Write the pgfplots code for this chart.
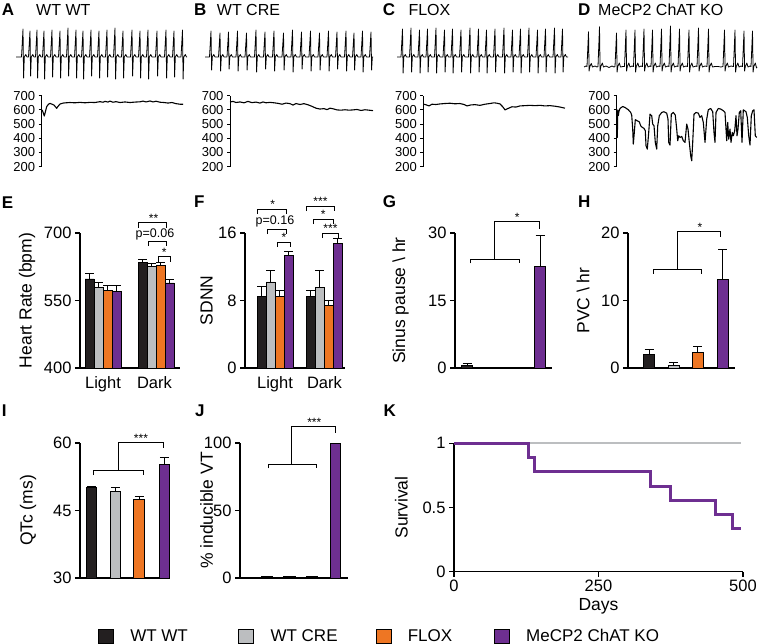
\documentclass[border=0pt]{standalone}
\usepackage{fontspec}
\setmainfont{Liberation Sans}
\usepackage{pgfplots}
\pgfplotsset{compat=1.18}
\definecolor{cblack}{HTML}{231F20}
\definecolor{cgrey}{HTML}{BCBEC0}
\definecolor{corange}{HTML}{EE7623}
\definecolor{cpurple}{HTML}{6E2F91}
\pgfplotsset{
  every axis/.append style={/pgf/number format/assume math mode=true},
  pane/.style={scale only axis, anchor=south west},
  barax/.style={pane,
    axis x line*=bottom, axis y line*=left,
    every outer x axis line/.append style={-}, every outer y axis line/.append style={-},
    axis line style={-, line width=1.3pt, black},
    tick pos=left, tick align=outside, major tick length=5pt,
    tick style={black, line width=1.3pt},
    tick label style={font=\fontsize{16.5}{18}\selectfont, black},
    label style={font=\fontsize{17.5}{19}\selectfont, black},
  },
  noxt/.style={xtick style={draw=none}},
  hrax/.style={pane, axis y line*=left, axis x line=none,
    every outer y axis line/.append style={-},
    axis line style={-, line width=1pt, black},
    ytick pos=left, tick align=outside, major tick length=3pt,
    tick style={black, line width=1pt}, xtick=\empty,
    ymin=200, ymax=700, ytick={200,300,...,700}, height=71pt, clip=false,
    tick label style={font=\fontsize{13}{13}\selectfont},
  },
  bb/.style={ybar, bar width=#1, draw=black, line width=0.6pt,
    error bars/y dir=plus, error bars/y explicit,
    error bars/error bar style={line width=1pt, black},
    error bars/error mark options={rotate=90, line width=1pt, mark size=4.5pt, black}},
  ecg/.style={black, line width=0.8pt, line join=round},
  hr/.style={black, line width=1.1pt, line join=round},
  sq/.style={legend image code/.code={\draw[fill=#1,draw=black,line width=0.6pt] (0pt,-7pt) rectangle (15pt,7pt); \path[draw=none,fill=none] (0pt,0pt) rectangle (32pt,0.1pt);}},
}
\tikzset{
  br/.style={black, line width=0.9pt},
  ast/.style={anchor=base, inner sep=0pt, font=\fontsize{12}{12}\selectfont},
  pv/.style={anchor=base, inner sep=0pt, font=\fontsize{12.5}{12.5}\selectfont},
  lt/.style={anchor=west, inner sep=0pt, font=\bfseries\fontsize{17}{17}\selectfont},
  tt/.style={anchor=west, inner sep=0pt, font=\fontsize{16}{16}\selectfont},
}
\begin{document}
\begin{tikzpicture}[x=1pt,y=-1pt]
\path[use as bounding box] (0,0) rectangle (760,644);

% ---------- overlay: ECG traces, titles, brackets (pixel coordinates)
\begin{axis}[at={(0pt,-644pt)}, anchor=south west, scale only axis, width=760pt, height=644pt,
  xmin=0, xmax=760, ymin=0, ymax=644, y dir=reverse, hide axis, clip=false]
\addplot[ecg] coordinates {(16,57)
(21.5,57)(23,29)(23.6,78)(24.3,57)(25.8,54.5)(27,57)
(28.5,57)(30,31)(30.6,76)(31.3,57)(32.8,54.5)(34,57)
(35.5,57)(37,30)(37.6,78)(38.3,57)(39.8,54.5)(41,57)
(42.5,57)(44,31)(44.6,79)(45.3,57)(46.8,54.5)(48,57)
(50.5,57)(52,30)(52.6,77)(53.3,57)(54.8,54.5)(56,57)
(58.5,57)(60,31)(60.6,78)(61.3,57)(62.8,54.5)(64,57)
(66.5,57)(68,28)(68.6,76)(69.3,57)(70.8,54.5)(72,57)
(74.5,57)(76,30)(76.6,78)(77.3,57)(78.8,54.5)(80,57)
(81.5,57)(83,31)(83.6,79)(84.3,57)(85.8,54.5)(87,57)
(89.5,57)(91,30)(91.6,76)(92.3,57)(93.8,54.5)(95,57)
(97.5,57)(99,31)(99.6,78)(100.3,57)(101.8,54.5)(103,57)
(105.5,57)(107,30)(107.6,77)(108.3,57)(109.8,54.5)(111,57)
(113.5,57)(115,28)(115.6,79)(116.3,57)(117.8,54.5)(119,57)
(121.5,57)(123,31)(123.6,78)(124.3,57)(125.8,54.5)(127,57)
(130.5,57)(132,30)(132.6,76)(133.3,57)(134.8,54.5)(136,57)
(138.5,57)(140,31)(140.6,78)(141.3,57)(142.8,54.5)(144,57)
(146.5,57)(148,30)(148.6,79)(149.3,57)(150.8,54.5)(152,57)
(155.5,57)(157,31)(157.6,76)(158.3,57)(159.8,54.5)(161,57)
(164.5,57)(166,30)(166.6,78)(167.3,57)(168.8,54.5)(170,57)
(172.5,57)(174,31)(174.6,77)(175.3,57)(176.8,54.5)(178,57)
(181,57)(182.5,30)(183.1,79)(183.8,57)(185.3,54.5)(186.5,57)(187,57)};
\addplot[ecg] coordinates {(205,57)
(209.5,57)(211,31)(211.6,70)(212.3,57)(213.8,54.5)(215,57)
(218.5,57)(220,33)(220.6,71)(221.3,57)(222.8,54.5)(224,57)
(227,57)(228.5,32)(229.1,69)(229.8,57)(231.3,54.5)(232.5,57)
(236,57)(237.5,31)(238.1,71)(238.8,57)(240.3,54.5)(241.5,57)
(245,57)(246.5,33)(247.1,70)(247.8,57)(249.3,54.5)(250.5,57)
(254.5,57)(256,30)(256.6,72)(257.3,57)(258.8,54.5)(260,57)
(263.5,57)(265,32)(265.6,69)(266.3,57)(267.8,54.5)(269,57)
(272.5,57)(274,31)(274.6,71)(275.3,57)(276.8,54.5)(278,57)
(282,57)(283.5,33)(284.1,70)(284.8,57)(286.3,54.5)(287.5,57)
(291,57)(292.5,30)(293.1,72)(293.8,57)(295.3,54.5)(296.5,57)
(300,57)(301.5,32)(302.1,69)(302.8,57)(304.3,54.5)(305.5,57)
(309,57)(310.5,31)(311.1,71)(311.8,57)(313.3,54.5)(314.5,57)
(318,57)(319.5,33)(320.1,70)(320.8,57)(322.3,54.5)(323.5,57)
(327,57)(328.5,31)(329.1,71)(329.8,57)(331.3,54.5)(332.5,57)
(335.5,57)(337,32)(337.6,69)(338.3,57)(339.8,54.5)(341,57)
(344.5,57)(346,31)(346.6,71)(347.3,57)(348.8,54.5)(350,57)
(352.5,57)(354,33)(354.6,70)(355.3,57)(356.8,54.5)(358,57)
(361,57)(362.5,31)(363.1,72)(363.8,57)(365.3,54.5)(366.5,57)
(369.5,57)(371,32)(371.6,70)(372.3,57)(373,57)};
\addplot[ecg] coordinates {(397,57)
(401,57)(402.5,29)(403.1,73)(403.8,57)(405.3,54.5)(406.5,57)
(409.5,57)(411,28)(411.6,72)(412.3,57)(413.8,54.5)(415,57)
(418,57)(419.5,30)(420.1,73)(420.8,57)(422.3,54.5)(423.5,57)
(426,57)(427.5,29)(428.1,72)(428.8,57)(430.3,54.5)(431.5,57)
(434.5,57)(436,28)(436.6,73)(437.3,57)(438.8,54.5)(440,57)
(443,57)(444.5,30)(445.1,72)(445.8,57)(447.3,54.5)(448.5,57)
(451,57)(452.5,29)(453.1,73)(453.8,57)(455.3,54.5)(456.5,57)
(459.5,57)(461,30)(461.6,72)(462.3,57)(463.8,54.5)(465,57)
(468.5,57)(470,28)(470.6,73)(471.3,57)(472.8,54.5)(474,57)
(477,57)(478.5,29)(479.1,72)(479.8,57)(481.3,54.5)(482.5,57)
(485,57)(486.5,30)(487.1,73)(487.8,57)(489.3,54.5)(490.5,57)
(493.5,57)(495,29)(495.6,72)(496.3,57)(497.8,54.5)(499,57)
(502.5,57)(504,28)(504.6,73)(505.3,57)(506.8,54.5)(508,57)
(511,57)(512.5,30)(513.1,72)(513.8,57)(515.3,54.5)(516.5,57)
(519,57)(520.5,29)(521.1,73)(521.8,57)(523.3,54.5)(524.5,57)
(527.5,57)(529,28)(529.6,72)(530.3,57)(531.8,54.5)(533,57)
(536,57)(537.5,30)(538.1,73)(538.8,57)(540.3,54.5)(541.5,57)
(544,57)(545.5,29)(546.1,72)(546.8,57)(548.3,54.5)(549.5,57)
(553,57)(554.5,28)(555.1,73)(555.8,57)(557.3,54.5)(558.5,57)
(561,57)(562.5,29)(563.1,72)(563.8,57)(565.3,54.5)(566.5,57)(568,57)};
\addplot[ecg] coordinates {(584,67)(586,66)
(587,66.5)(588.5,31.7)(589.1,71)(589.8,66.5)(591.3,63.5)(592.5,67)(595,66)(597,67)
(598,66.5)(599.5,26.7)(600.1,71)(600.8,66.5)(602.3,63)(603.5,67)(606,66)(609,67.5)(612,66)(614,67)
(615,66.5)(616.5,33)(617.1,72)(617.8,66.5)(619.3,63)(620.5,67)(623,66.5)
(624.5,66.5)(626,30)(626.6,71)(627.3,66.5)(628.8,63)(630,67)(632,66)
(633.5,66.5)(635,30)(635.6,72)(636.3,66.5)(637.8,63)(639,67)(641,66)
(642.5,66.5)(644,29)(644.6,71)(645.3,66.5)(646.8,63)(648,67)(650,66)
(651,66.5)(652.5,30)(653.1,72)(653.8,66.5)(655.3,63)(656.5,67)(659,66)
(660,66.5)(661.5,29)(662.1,71)(662.8,66.5)(664.3,63)(665.5,67)(668,66)
(669,66.5)(670.5,26)(671.1,72)(671.8,66.5)(673.3,63)(674.5,67)(677,66)
(678,66.5)(679.5,29)(680.1,71)(680.8,66.5)(682.3,63)(683.5,67)(686,66)
(687.5,66.5)(689,30)(689.6,72)(690.3,66.5)(691.8,63)(693,67)(696,66)
(697,66.5)(698.5,28)(699.1,71)(699.8,66.5)(701.3,63)(702.5,67)(705,66)
(707,66.5)(708.5,29)(709.1,72)(709.8,66.5)(711.3,63)(712.5,67)(715,66.5)(718,66.5)(721,67)
(723,66.5)(724.5,30)(725.1,71)(725.8,66.5)(727.3,63)(728.5,67)(731,66)
(733.5,66.5)(735,30)(735.6,72)(736.3,66.5)(737.8,63)(739,67)(741,66)
(742.5,66.5)(744,31)(744.6,71)(745.3,66.5)(746.8,63)(748,67)(750,66)
(751,66.5)(752.5,31)(753.1,72)(753.8,66.5)(755.3,63)(756.5,68)(757,67)};
% panel letters and titles
\node[lt] at (1.7,10) {A};   \node[tt] at (36,10) {WT WT};
\node[lt] at (194,10) {B};   \node[tt] at (216.7,10) {WT CRE};
\node[lt] at (382.7,10) {C}; \node[tt] at (408.3,10) {FLOX};
\node[lt] at (578,10) {D};   \node[tt] at (598,10) {MeCP2 ChAT KO};
\node[lt] at (1.7,202.5) {E}; \node[lt] at (194,202) {F};
\node[lt] at (382.7,202) {G}; \node[lt] at (578,202) {H};
\node[lt] at (1.7,411) {I};  \node[lt] at (195,411) {J}; \node[lt] at (383.3,411) {K};
% E brackets
\draw[br] (138.3,227.5) -- (138.3,222.7) -- (166.7,222.7) -- (166.7,227.5);
\node[ast] at (153.5,222) {**};
\draw[br] (148.3,246) -- (148.3,241.7) -- (166.7,241.7) -- (166.7,246);
\node[pv] at (155,237.5) {p=0.06};
\draw[br] (158.3,261.5) -- (158.3,256.7) -- (170,256.7) -- (170,261.5);
\node[ast] at (164.2,256) {*};
% F brackets
\draw[br] (257.7,214) -- (257.7,209.3) -- (286,209.3) -- (286,214);
\node[ast] at (272.7,208.6) {*};
\node[pv] at (275,224.5) {p=0.16};
\draw[br] (267.3,234) -- (267.3,229.3) -- (286,229.3) -- (286,234);
\draw[br] (277.7,246.5) -- (277.7,242) -- (290,242) -- (290,246.5);
\node[ast] at (284,241.5) {*};
\draw[br] (306.7,211) -- (306.7,206) -- (334.3,206) -- (334.3,211);
\node[ast] at (320.5,205.5) {***};
\draw[br] (313.3,224) -- (313.3,219.3) -- (333.3,219.3) -- (333.3,224);
\node[ast] at (323.3,218.8) {*};
\draw[br] (322.7,238) -- (322.7,233.3) -- (338.3,233.3) -- (338.3,238);
\node[ast] at (330.5,232.8) {***};
% G
\draw[br] (470,263.3) -- (470,259.3) -- (519.3,259.3) -- (519.3,263.3);
\draw[br] (494.3,259.3) -- (494.3,221.7) -- (539,221.7) -- (539,229.3);
\node[ast] at (517.3,221.2) {*};
% H
\draw[br] (653.3,273.5) -- (653.3,269.3) -- (701.7,269.3) -- (701.7,273.5);
\draw[br] (677.7,269.3) -- (677.7,231.7) -- (720.7,231.7) -- (720.7,236.7);
\node[ast] at (700,231.2) {*};
% I
\draw[br] (93.3,475) -- (93.3,470.7) -- (143.3,470.7) -- (143.3,475);
\draw[br] (118.3,470.7) -- (118.3,442.7) -- (163.3,442.7) -- (163.3,448.3);
\node[ast] at (141,442.2) {***};
% J
\draw[br] (268.3,468.3) -- (268.3,464.3) -- (316,464.3) -- (316,468.3);
\draw[br] (291.7,464.3) -- (291.7,426.7) -- (335,426.7) -- (335,433.3);
\node[ast] at (314.3,426.2) {***};
\end{axis}

% ---------- heart-rate traces A-D
\begin{axis}[hrax, at={(41.7pt,-166.7pt)}, width=142pt, xmin=41.7, xmax=183.7]
\addplot[hr] coordinates {(42,600)(43,585)(44.3,557)(45.5,590)(46.7,623)(48.5,640)(50,646)(52,640)(54,634)(56.7,611)(58,625)(60,641)(63,648)(66,650)(70,652)(75,650)(80,653)(85,650)(90,653)(95,652)(100,658)(103,654)(105,660)(108,655)(110,662)(113,654)(116,658)(120,652)(125,656)(130,652)(135,655)(140,657)(143,662)(146,656)(150,663)(153,656)(156,661)(160,654)(164,652)(168,648)(172,652)(176,644)(180,640)(183,640)};
\end{axis}
\begin{axis}[hrax, at={(230pt,-166.7pt)}, width=144pt, xmin=230, xmax=374]
\addplot[hr] coordinates {(230,655)(233,660)(236,652)(240,656)(244,650)(248,660)(252,651)(256,655)(260,648)(263,656)(266,650)(270,653)(274,650)(278,646)(282,640)(286,648)(290,644)(293,634)(296,645)(300,638)(304,644)(308,636)(312,625)(316,612)(320,606)(324,609)(327,602)(330,612)(333,608)(337,600)(341,598)(345,601)(349,598)(353,600)(357,603)(361,596)(365,601)(369,598)(373,595)};
\end{axis}
\begin{axis}[hrax, at={(423.3pt,-166.7pt)}, width=144.7pt, xmin=423.3, xmax=568]
\addplot[hr] coordinates {(423.3,641)(426,636)(429,628)(432,640)(436,638)(440,642)(445,645)(450,647)(455,643)(460,645)(464,638)(467,628)(471,635)(475,637)(480,632)(485,640)(490,645)(494,650)(497,647)(500,642)(503,620)(505,600)(508,610)(512,622)(516,620)(520,628)(525,630)(530,632)(535,630)(540,632)(545,628)(550,630)(555,626)(560,620)(565,612)};
\end{axis}
\begin{axis}[hrax, at={(616.7pt,-166.7pt)}, width=141.3pt, xmin=616.7, xmax=758]
\addplot[hr] coordinates {(616.9,559)(617.3,406)(617.8,600)(618.3,560)(619,590)(620,610)(622.7,624)(625,617)(628.3,601)(630.7,582)(631.7,563)(632.7,465)(633.3,359)(634.3,441)(635.3,531)(637.3,523)(639.3,516)(640.7,488)(642.3,477)(644,470)(645.3,453)(646,348)(647.3,324)(648.7,441)(650,570)(651.7,559)(652.7,500)(654,488)(655.3,371)(656.7,324)(657.7,488)(659.3,559)(661.7,582)(664,587)(666.7,577)(668,535)(668.7,371)(670,352)(671.3,570)(673.3,582)(675.3,563)(676.7,465)(677.7,383)(678.7,418)(680,406)(681.7,413)(683.3,383)(685,371)(686.7,500)(688,465)(689.3,371)(690.7,277)(691.7,242)(692.7,371)(694,570)(696,582)(698.3,577)(700,547)(701.7,559)(703.3,512)(705,371)(706.7,535)(708.3,601)(710.7,610)(712.7,587)(714,441)(715,371)(716,582)(718.3,610)(720.7,606)(723.3,594)(725,582)(726,465)(726.7,383)(727.7,512)(728.7,394)(730,465)(731,371)(732.3,441)(733.3,418)(734.7,453)(736,559)(737,418)(738,465)(739.3,582)(740.7,594)(742,371)(743.3,601)(746,587)(747.3,547)(748.7,418)(750,352)(751.3,559)(752.7,594)(754,601)(755.3,418)(756.7,406)};
\end{axis}

% ---------- E heart rate
\begin{axis}[barax, noxt, at={(80pt,-368pt)}, width=100pt, height=135pt,
  xmin=80, xmax=180, ymin=400, ymax=700, ytick={400,550,700},
  xtick={103,154.5}, xticklabels={Light,Dark},
  ylabel={Heart Rate (bpm)}, ylabel style={at={(axis description cs:-0.53,0.5)}, anchor=center}]
\addplot[fill=cblack, bb=9pt] coordinates {(89.5,598) +- (0,13) (142.5,634) +- (0,7)};
\addplot[fill=cgrey, bb=9pt] coordinates {(98.5,580) +- (0,10) (151.5,625) +- (0,8)};
\addplot[fill=corange, bb=9pt] coordinates {(107.5,572) +- (0,11) (160.5,628) +- (0,7)};
\addplot[fill=cpurple, bb=9pt] coordinates {(116.5,571) +- (0,13) (169.5,589) +- (0,8)};
\end{axis}

% ---------- F SDNN
\begin{axis}[barax, noxt, at={(245pt,-368pt)}, width=100pt, height=135pt,
  xmin=245, xmax=345, ymin=0, ymax=16, ytick={0,8,16},
  xtick={275,324.5}, xticklabels={Light,Dark},
  ylabel={SDNN}, ylabel style={at={(axis description cs:-0.383,0.5)}, anchor=center}]
\addplot[fill=cblack, bb=9pt] coordinates {(261.5,8.45) +- (0,1.15) (310.5,8.45) +- (0,0.75)};
\addplot[fill=cgrey, bb=9pt] coordinates {(270.5,10.2) +- (0,1.3) (319.5,9.55) +- (0,1.95)};
\addplot[fill=corange, bb=9pt] coordinates {(279.5,8.5) +- (0,0.7) (328.5,7.45) +- (0,0.55)};
\addplot[fill=cpurple, bb=9pt] coordinates {(288.5,13.3) +- (0,0.5) (337.5,14.8) +- (0,0.5)};
\end{axis}

% ---------- G sinus pause
\begin{axis}[barax, noxt, at={(455pt,-368pt)}, width=97pt, height=135pt,
  xmin=455, xmax=552, ymin=0, ymax=30, ytick={0,15,30}, xtick=\empty,
  ylabel={Sinus pause \textbackslash{} hr}, ylabel style={at={(axis description cs:-0.56,0.5)}, anchor=center}]
\addplot[fill=cblack, bb=10.5pt] coordinates {(467,0.5) +- (0,0.5)};
\addplot[fill=cpurple, bb=10.5pt] coordinates {(540,22.7) +- (0,6.7)};
\end{axis}

% ---------- H PVC
\begin{axis}[barax, noxt, at={(628pt,-368pt)}, width=107pt, height=135pt,
  xmin=628, xmax=735, ymin=0, ymax=20, ytick={0,10,20}, xtick=\empty,
  ylabel={PVC \textbackslash{} hr}, ylabel style={at={(axis description cs:-0.42,0.5)}, anchor=center}]
\addplot[fill=cblack, bb=11pt] coordinates {(649,2.0) +- (0,0.8)};
\addplot[fill=cgrey, bb=11pt] coordinates {(673.7,0.45) +- (0,0.35)};
\addplot[fill=corange, bb=11pt] coordinates {(697.5,2.3) +- (0,0.85)};
\addplot[fill=cpurple, bb=11pt] coordinates {(722.5,13.1) +- (0,4.5)};
\end{axis}

% ---------- I QTc
\begin{axis}[barax, noxt, at={(80pt,-578pt)}, width=90pt, height=135pt,
  xmin=80, xmax=170, ymin=30, ymax=60, ytick={30,45,60}, xtick=\empty,
  ylabel={QTc (ms)}, ylabel style={at={(axis description cs:-0.578,0.5)}, anchor=center}]
\addplot[fill=cblack, bb=10.5pt] coordinates {(91.3,50.2) +- (0,0.2)};
\addplot[fill=cgrey, bb=10.5pt] coordinates {(115.3,49.3) +- (0,0.8)};
\addplot[fill=corange, bb=10.5pt] coordinates {(139,47.6) +- (0,0.5)};
\addplot[fill=cpurple, bb=10.5pt] coordinates {(164.3,55.3) +- (0,1.5)};
\end{axis}

% ---------- J inducible VT
\begin{axis}[barax, noxt, at={(240pt,-578pt)}, width=108pt, height=135pt,
  xmin=240, xmax=348, ymin=0, ymax=100, ytick={0,50,100}, xtick=\empty,
  ylabel={\% inducible VT}, ylabel style={at={(axis description cs:-0.308,0.5)}, anchor=center}]
\addplot[fill=cblack, bb=10.5pt, line width=1.6pt] coordinates {(267,0.6) +- (0,0)};
\addplot[fill=cgrey, bb=10.5pt, line width=1.6pt] coordinates {(289.5,0.6) +- (0,0)};
\addplot[fill=corange, bb=10.5pt, line width=1.6pt] coordinates {(312,0.6) +- (0,0)};
\addplot[fill=cpurple, bb=10.5pt] coordinates {(335.3,100) +- (0,0)};
\end{axis}

% ---------- K survival
\begin{axis}[barax, at={(454pt,-571.7pt)}, width=289pt, height=128.4pt, clip=false,
  xmin=0, xmax=500, ymin=0, ymax=1, xtick={0,250,500}, ytick={0,0.5,1},
  xlabel={Days}, ylabel={Survival},
  ylabel style={at={(axis description cs:-0.182,0.5)}, anchor=center},
  legend columns=4,
  legend style={at={(axis description cs:-1.232,-0.501)}, anchor=west, draw=none, fill=none,
    inner sep=0pt, outer sep=0pt, font=\fontsize{17}{19}\selectfont,
    /tikz/every even column/.append style={column sep=0pt},
    nodes={inner xsep=0pt}},
  legend cell align=left]
\addplot[forget plot, cgrey, line width=2pt] coordinates {(0,1) (496,1)};
\addplot[forget plot, cpurple, line width=3pt, const plot] coordinates {(0,1) (128.7,0.889) (138.5,0.778) (339.5,0.667) (375.3,0.556) (452,0.444) (482.6,0.333) (496.5,0.333)};
\addlegendimage{sq=cblack}
\addlegendentry{\makebox[108pt][l]{WT WT}}
\addlegendimage{sq=cgrey}
\addlegendentry{\makebox[105pt][l]{WT CRE}}
\addlegendimage{sq=corange}
\addlegendentry{\makebox[86pt][l]{FLOX}}
\addlegendimage{sq=cpurple}
\addlegendentry{MeCP2 ChAT KO}
\end{axis}
\end{tikzpicture}
\end{document}
